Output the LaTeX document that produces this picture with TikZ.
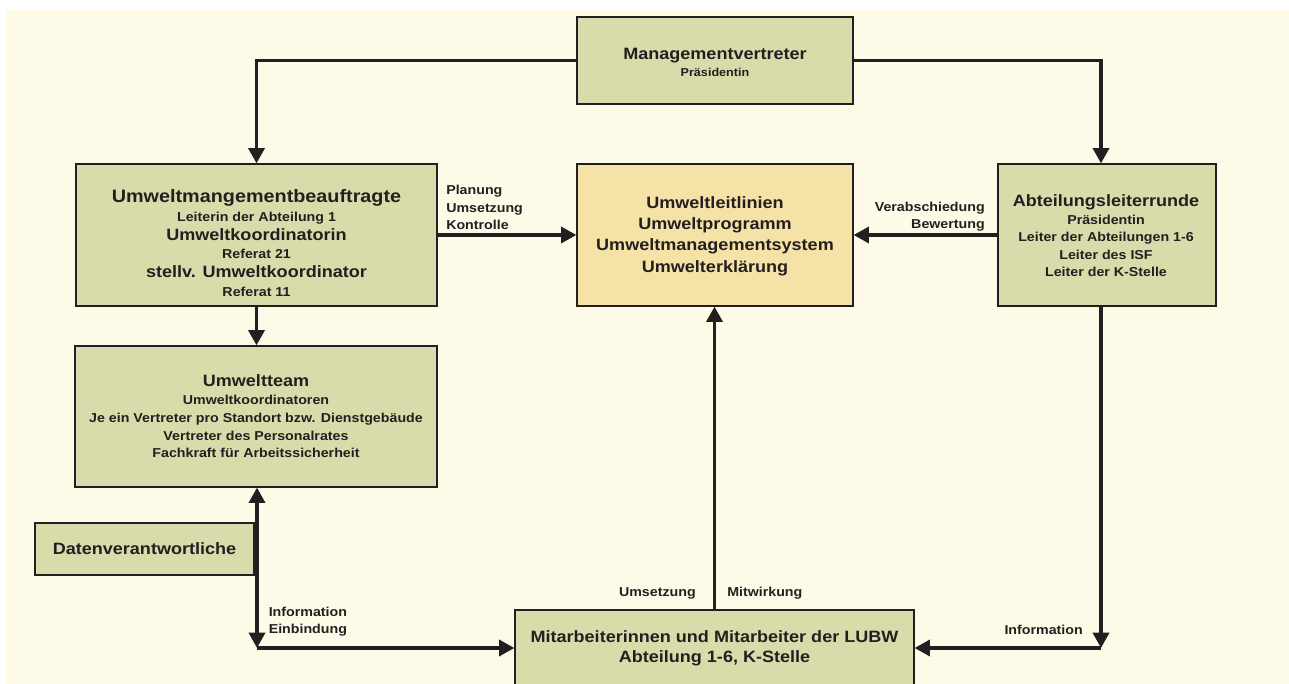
\documentclass[tikz,border=0pt]{standalone}
\usepackage{fontspec}
\setmainfont[FakeStretch=1.1]{Liberation Sans}
\usetikzlibrary{arrows.meta}
\definecolor{cream}{HTML}{FEFAE8}
\definecolor{boxgreen}{HTML}{D9DCAA}
\definecolor{boxtan}{HTML}{F5E2A6}
\definecolor{ink}{HTML}{231F20}
\newcommand\fsz[3]{{\fontsize{#1}{#2}\selectfont #3}}
\begin{document}
\begin{tikzpicture}[x=0.75pt,y=-0.75pt,
  box/.style={draw=ink, line width=0.9pt, fill=boxgreen, inner sep=0pt},
  txt/.style={inner sep=0pt, align=center, text=ink},
  lbl/.style={inner sep=0pt, text=ink, font=\bfseries\fontsize{9.7}{13.1}\selectfont},
  conn/.style={draw=ink, line width=2.6pt, -{Triangle[length=11.5pt,width=12pt]}},
  conntwo/.style={draw=ink, line width=2.6pt, {Triangle[length=11.5pt,width=12pt]}-{Triangle[length=11.5pt,width=12pt]}}
  ]
\useasboundingbox (0,0) rectangle (1289,684);
\clip (0,0) rectangle (1289,684);
\fill[white] (0,0) rectangle (1289,684);
\fill[cream] (6,10) rectangle (1289,684);

% boxes
\node[box, minimum width=207pt, minimum height=65.25pt] (mv) at (715,60.5) {};
\node[box, minimum width=270.75pt, minimum height=106.5pt] (lb) at (256.5,235) {};
\node[box, fill=boxtan, minimum width=207pt, minimum height=106.5pt] (cb) at (715,235) {};
\node[box, minimum width=163.5pt, minimum height=106.5pt] (rb) at (1107,235) {};
\node[box, minimum width=271.5pt, minimum height=105.75pt] (ut) at (256,416.5) {};
\node[box, minimum width=164.25pt, minimum height=39pt] (dv) at (144.5,549) {};
\node[box, minimum width=299.25pt, minimum height=57pt] (bb) at (714.5,648) {};

% box texts
\node[txt, font=\bfseries\fontsize{12.3}{12.75}\selectfont] (mvt) at (715,62.5)
  {Managementvertreter\\ \fsz{8.6}{12.75}{Präsidentin}};
\node[txt, font=\bfseries\fontsize{12.3}{14.1}\selectfont] (lbt) at (256.5,243)
  {\fsz{13.5}{14.1}{Umweltmangementbeauftragte}\\ \fsz{9.7}{14.1}{Leiterin der Abteilung 1}\\ Umweltkoordinatorin\\ \fsz{9.7}{14.1}{Referat 21}\\ stellv. Umweltkoordinator\\ \fsz{9.7}{14.1}{Referat 11}};
\node[txt, font=\bfseries\fontsize{12.3}{16}\selectfont] (cbt) at (715,236)
  {Umweltleitlinien\\ Umweltprogramm\\ Umweltmanagementsystem\\ Umwelterklärung};
\node[txt, font=\bfseries\fontsize{9.7}{13.1}\selectfont] (rbt) at (1106,236)
  {\fsz{12.3}{13.1}{Abteilungsleiterrunde}\\ Präsidentin\\ Leiter der Abteilungen 1-6\\ Leiter des ISF\\ Leiter der K-Stelle};
\node[txt, font=\bfseries\fontsize{9.7}{13.3}\selectfont] (utt) at (256,416.5)
  {\fsz{12.3}{13.3}{Umweltteam}\\ Umweltkoordinatoren\\ Je ein Vertreter pro Standort bzw. Dienstgebäude\\ Vertreter des Personalrates\\ Fachkraft für Arbeitssicherheit};
\node[txt, font=\bfseries\fontsize{12.3}{15}\selectfont] (dvt) at (dv.center) {Datenverantwortliche};
\node[txt, font=\bfseries\fontsize{12.3}{15}\selectfont] (bbt) at (714.5,648)
  {Mitarbeiterinnen und Mitarbeiter der LUBW\\ Abteilung 1-6, K-Stelle};

% coordinates
\coordinate (rx) at (1101,0);
\coordinate (cL) at (257,648);
\coordinate (cR) at (1101,648);

% connectors
\draw[conn] (mv.west) -| (lb.north);
\draw[conn] (mv.east) -| (rx |- rb.north);
\draw[conn] (lb.east) -- (cb.west);
\draw[conn] (rb.west) -- (cb.east);
\draw[conn] (lb.south) -- (lb.south |- ut.north);
\draw[conntwo] (cL |- ut.south) -- (cL);
\draw[conn] (cL) -- (bb.west);
\draw[conn] (bb.north) -- (bb.north |- cb.south);
\draw[conn] (rx |- rb.south) -- (cR);
\draw[conn] (cR) -- (bb.east);

% labels
\node[lbl, anchor=west, align=left] (l1) at (446,207.5) {Planung\\Umsetzung\\Kontrolle};
\node[lbl, anchor=east, align=right] (l2) at (985,216.5) {Verabschiedung\\Bewertung};
\node[lbl, anchor=west, align=left] (l3) at (268.5,621.5) {Information\\Einbindung};
\node[lbl, anchor=east] (l4) at (696,593) {Umsetzung};
\node[lbl, anchor=west] (l5) at (727,593) {Mitwirkung};
\node[lbl, anchor=east] (l6) at (1083,630) {Information};
\end{tikzpicture}
\end{document}
